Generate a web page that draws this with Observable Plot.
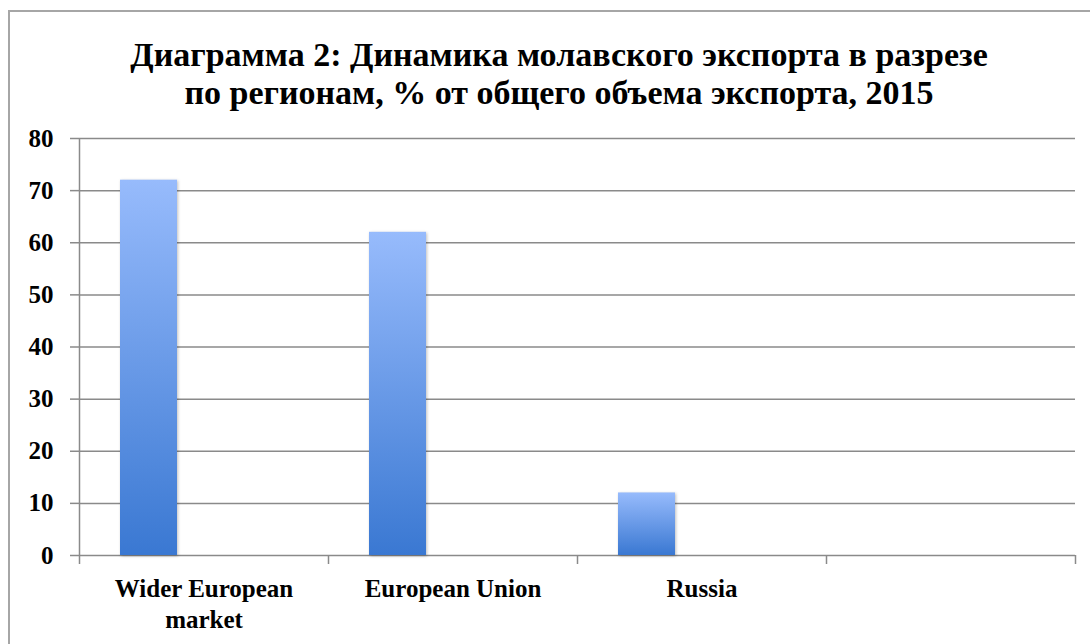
<!DOCTYPE html>
<html>
<head>
<meta charset="utf-8">
<script src="https://cdn.jsdelivr.net/npm/d3@7"></script>
<script src="https://cdn.jsdelivr.net/npm/@observablehq/plot@0.6"></script>
<style>
  html, body { margin: 0; padding: 0; background: #fff; }
  #wrap { position: relative; width: 1090px; height: 644px; overflow: hidden; background: #fff; }
  #frame { position: absolute; left: 8px; top: 10px; width: 1200px; height: 800px;
           border: 2px solid #a6a6a6; box-sizing: border-box; pointer-events: none; }
  #title { height: 120px; box-sizing: border-box; padding-top: 36px; padding-left: 28px; text-align: center;
           font-family: "Liberation Serif", serif; font-weight: bold; font-size: 34px;
           line-height: 38px; color: #000; white-space: nowrap; }
  #chart svg { display: block; }
</style>
</head>
<body>
<div id="wrap">
  <div id="title"></div>
  <div id="chart"></div>
  <div id="frame"></div>
</div>
<script>
const titleLines = ["Диаграмма 2: Динамика молавского экспорта в разрезе",
                    "по регионам, % от общего объема экспорта, 2015"];
const categories = ["Wider European\nmarket", "European Union", "Russia", ""];
const values = [72, 62, 12];
const yTicks = [0, 10, 20, 30, 40, 50, 60, 70, 80];

document.getElementById("title").innerHTML = titleLines.join("<br>");

const data = values.map((v, i) => ({i, category: categories[i], value: v}));
const boundaries = d3.range(categories.length + 1);
const centers = categories.map((c, i) => i + 0.5);

const gridColor = "#8a8a8a";

const plot = Plot.plot({
  width: 1090,
  height: 524,
  marginLeft: 79,
  marginRight: 15,
  marginTop: 18,
  marginBottom: 89,
  style: {fontFamily: "Liberation Serif, serif", fontWeight: "bold", fontSize: "25px", color: "#000", background: "#fff"},
  x: {type: "linear", domain: [0, categories.length]},
  y: {domain: [0, 80]},
  marks: [
    Plot.gridY(yTicks, {stroke: gridColor, strokeOpacity: 1, strokeWidth: 1.5}),
    Plot.ruleX([0], {stroke: gridColor, strokeWidth: 1.5}),
    Plot.rectY(data, {
      x1: d => d.i, x2: d => d.i + 1, y: "value",
      insetLeft: 41, insetRight: 151,
      fill: "url(#barGrad)"
    }),
    Plot.axisY(yTicks, {tickSize: 9, tickPadding: 17, stroke: gridColor, strokeWidth: 1.5,
      fill: "#000", fontSize: 25, fontWeight: "bold", label: null}),
    Plot.axisX(boundaries, {tickSize: 9, text: null, stroke: gridColor, strokeWidth: 1.5, label: null}),
    Plot.axisX(centers, {tickSize: 0, tickPadding: 19, label: null,
      tickFormat: (d, k) => categories[k], fill: "#000", fontSize: 25, fontWeight: "bold",
      lineHeight: 1.25})
  ]
});

// gradient definition for the bars
const ns = "http://www.w3.org/2000/svg";
const defs = document.createElementNS(ns, "defs");
defs.innerHTML = `
  <linearGradient id="barGrad" x1="0" y1="0" x2="0" y2="1">
    <stop offset="0%" stop-color="#97bbfc"/>
    <stop offset="100%" stop-color="#3a78d2"/>
  </linearGradient>`;
plot.insertBefore(defs, plot.firstChild);
plot.querySelectorAll("rect").forEach(r => {
  if ((r.getAttribute("fill") || r.parentNode.getAttribute("fill") || "").includes("barGrad"))
    r.style.filter = "drop-shadow(1px 1px 1.5px rgba(0,0,0,0.25))";
});
document.getElementById("chart").appendChild(plot);
</script>
</body>
</html>
